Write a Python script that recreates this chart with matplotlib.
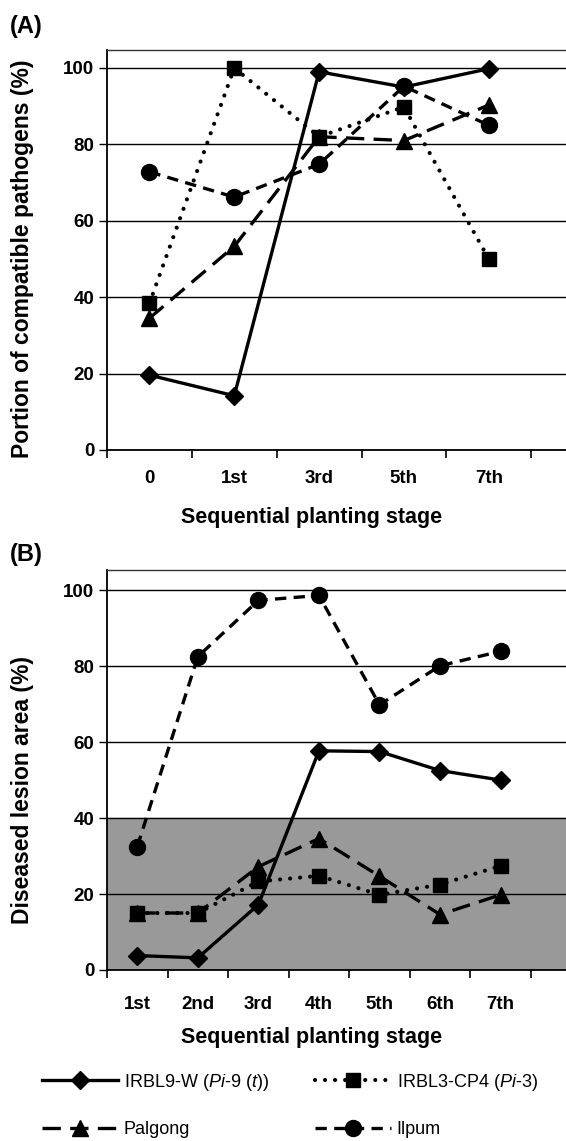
import matplotlib
matplotlib.use('Agg')
import matplotlib.pyplot as plt
from matplotlib.lines import Line2D

plt.rcParams['font.family'] = ['Liberation Sans', 'DejaVu Sans']
plt.rcParams['mathtext.fontset'] = 'custom'
plt.rcParams['mathtext.rm'] = 'Liberation Sans'
plt.rcParams['mathtext.it'] = 'Liberation Sans:italic'

# panel A data
stages_a = ['0', '1st', '3rd', '5th', '7th']
irbl9_a = [19.6, 14.2, 99.0, 95.0, 99.8]
irbl3_a = [38.4, 100.0, 82.0, 89.8, 50.0]
palgong_a = [34.5, 53.3, 82.0, 81.0, 90.3]
ilpum_a = [72.8, 66.2, 74.8, 95.2, 85.0]

# panel B data
stages_b = ['1st', '2nd', '3rd', '4th', '5th', '6th', '7th']
irbl9_b = [3.8, 3.2, 17.2, 57.7, 57.5, 52.5, 50.0]
irbl3_b = [15.0, 15.0, 23.3, 24.8, 19.8, 22.5, 27.4]
palgong_b = [15.0, 15.0, 27.2, 34.6, 24.7, 14.6, 19.8]
ilpum_b = [32.5, 82.5, 97.3, 98.6, 69.8, 80.1, 83.9]

yticks = [0, 20, 40, 60, 80, 100]

styles = {
    'irbl9': dict(color='black', lw=2.4, ls='-', marker='D', ms=9.5),
    'irbl3': dict(color='black', lw=3.0, ls=(0, (0.01, 2.4)), marker='s', ms=10.5,
                  dash_capstyle='round'),
    'palgong': dict(color='black', lw=2.4, ls=(0, (5.5, 2.8)), marker='^', ms=11),
    'ilpum': dict(color='black', lw=2.4, ls=(0, (3.4, 2.2)), marker='o', ms=11.5),
}

fig = plt.figure(figsize=(5.66, 11.41), dpi=100)


def setup_axis(ax, labels, extra, pad):
    n = len(labels)
    ax.set_xlim(-0.5, n - 0.5 + extra)
    ax.set_xticks([i - 0.5 for i in range(n + 1)])
    ax.set_xticklabels([])
    ax.set_xticks(range(n), minor=True)
    ax.set_xticklabels(labels, minor=True, fontsize=13.5, fontweight='bold')
    ax.tick_params(axis='x', which='major', length=6, width=1.2, direction='out')
    ax.tick_params(axis='x', which='minor', length=0, pad=pad)
    ax.set_yticks(yticks)
    ax.set_yticklabels([str(v) for v in yticks], fontsize=13.5, fontweight='bold')
    ax.tick_params(axis='y', length=6, width=1.0, direction='out', pad=3)
    ax.yaxis.grid(True, color='black', lw=1.0)
    ax.set_axisbelow('line')
    ax.spines['right'].set_visible(False)
    ax.spines['left'].set_linewidth(1.3)
    ax.spines['bottom'].set_linewidth(1.3)
    ax.spines['top'].set_linewidth(1.0)
    ax.spines['top'].set_color('#333333')


# panel A
ax1 = fig.add_axes([107 / 566, 1 - 450 / 1141, 1 - 107 / 566, 400 / 1141])
x_a = range(len(stages_a))
ax1.plot(x_a, ilpum_a, **styles['ilpum'])
ax1.plot(x_a, palgong_a, **styles['palgong'])
ax1.plot(x_a, irbl3_a, **styles['irbl3'])
ax1.plot(x_a, irbl9_a, **styles['irbl9'])
ax1.set_ylim(0, 104.7)
setup_axis(ax1, stages_a, 0.41, 14.5)

# panel B
ax2 = fig.add_axes([107 / 566, 1 - 970 / 1141, 1 - 107 / 566, 400 / 1141])
x_b = range(len(stages_b))
ax2.axhspan(0, 40, color='#999999', zorder=1)
ax2.plot(x_b, ilpum_b, **styles['ilpum'])
ax2.plot(x_b, palgong_b, **styles['palgong'])
ax2.plot(x_b, irbl3_b, **styles['irbl3'])
ax2.plot(x_b, irbl9_b, **styles['irbl9'])
ax2.set_ylim(0, 105.3)
setup_axis(ax2, stages_b, 0.58, 18.5)

# labels
fig.text(10 / 566, 1 - 26 / 1141, '(A)', fontsize=17, fontweight='bold', va='center')
fig.text(10 / 566, 1 - 555 / 1141, '(B)', fontsize=17, fontweight='bold', va='center')
fig.text(23 / 566, 1 - 259 / 1141, 'Portion of compatible pathogens (%)', rotation=90,
         fontsize=16.5, fontweight='bold', ha='center', va='center')
fig.text(23 / 566, 1 - 790 / 1141, 'Diseased lesion area (%)', rotation=90,
         fontsize=16.5, fontweight='bold', ha='center', va='center')
fig.text(312 / 566, 1 - 518 / 1141, 'Sequential planting stage', fontsize=15.5,
         fontweight='bold', ha='center', va='center')
fig.text(312 / 566, 1 - 1037 / 1141, 'Sequential planting stage', fontsize=15.5,
         fontweight='bold', ha='center', va='center')

# legend
handles = [
    Line2D([], [], **styles['irbl9']),
    Line2D([], [], **styles['palgong']),
    Line2D([], [], **styles['irbl3']),
    Line2D([], [], **styles['ilpum']),
]
labels = [
    'IRBL9-W ($\\it{Pi}$-$\\it{9\\ (t)}$)',
    'Palgong',
    'IRBL3-CP4 ($\\it{Pi}$-$\\it{3}$)',
    'Ilpum',
]
fig.legend(handles, labels, ncol=2, loc='center', bbox_to_anchor=(290 / 566, 1 - 1105 / 1141),
           frameon=False, fontsize=13, handlelength=4.2, columnspacing=2.6,
           labelspacing=1.6, handletextpad=0.3)

fig.savefig('out.png', dpi=100)
